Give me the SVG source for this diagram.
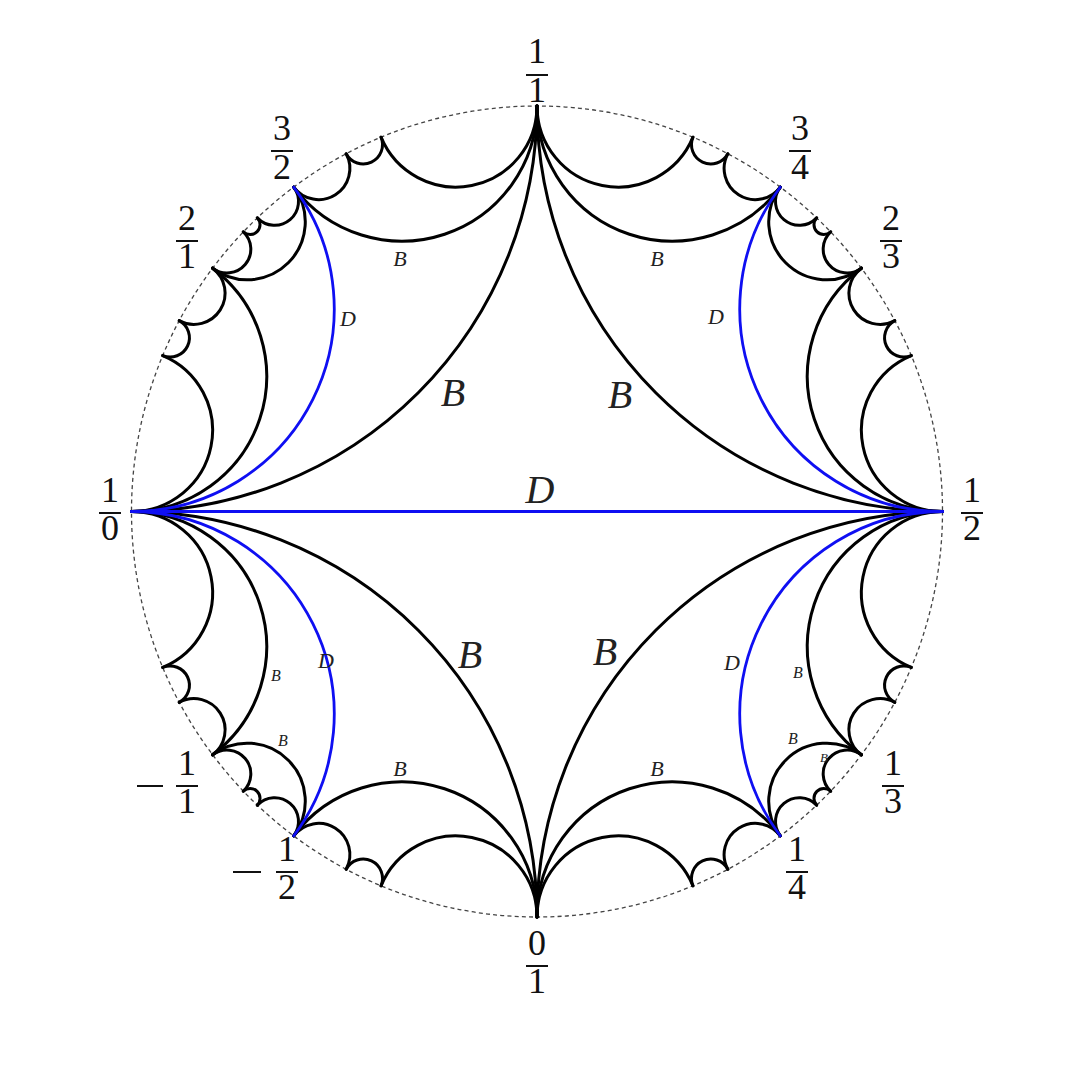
<svg xmlns="http://www.w3.org/2000/svg" width="1080" height="1075" viewBox="0 0 1080 1075">
<style>
.e{fill:none;stroke:#000;stroke-width:3;stroke-linecap:round}
.d{fill:none;stroke:#0f0ff2;stroke-width:2.8;stroke-linecap:round}
.bd{fill:none;stroke:#444;stroke-width:1.3;stroke-dasharray:4 3.2}
.n{font-family:"Liberation Serif","DejaVu Serif",serif;font-size:36px;text-anchor:middle;fill:#111}
.bar{stroke:#111;stroke-width:2}
.l{font-family:"Liberation Serif","DejaVu Serif",serif;font-style:italic;text-anchor:middle;fill:#222}
.lb{font-size:40px}
.ls{font-size:22px}
.lt{font-size:16px}
.lx{font-size:13px}
</style>
<rect width="1080" height="1075" fill="#fff"/>
<circle id="boundary" cx="537" cy="511.5" r="405.5" class="bd"/>
<g id="connectors">
<!-- upper left -->
<path class="e" d="M537,106 A405.5,405.5 0 0 1 131.5,511.5"/>
<path class="e" d="M537,106 A135.17,135.17 0 0 1 293.7,187.1"/>
<path class="e" d="M212.6,268.2 A135.17,135.17 0 0 1 131.5,511.5"/>
<path class="e" d="M293.7,187.1 A57.93,57.93 0 0 1 212.6,268.2"/>
<path class="e" d="M537,106 A81.1,81.1 0 0 1 381.04,137.19"/>
<path class="e" d="M381.04,137.19 A19.31,19.31 0 0 1 346.18,153.71"/>
<path class="e" d="M346.18,153.71 A31.19,31.19 0 0 1 293.7,187.1"/>
<path class="e" d="M293.7,187.1 A23.85,23.85 0 0 1 257.34,217.86"/>
<path class="e" d="M257.34,217.86 A9.89,9.89 0 0 1 243.36,231.84"/>
<path class="e" d="M243.36,231.84 A23.85,23.85 0 0 1 212.6,268.2"/>
<path class="e" d="M212.6,268.2 A31.19,31.19 0 0 1 179.21,320.68"/>
<path class="e" d="M179.21,320.68 A19.31,19.31 0 0 1 162.69,355.54"/>
<path class="e" d="M162.69,355.54 A81.1,81.1 0 0 1 131.5,511.5"/>
<!-- upper right -->
<path class="e" d="M942.5,511.5 A405.5,405.5 0 0 1 537,106"/>
<path class="e" d="M780.3,187.1 A135.17,135.17 0 0 1 537,106"/>
<path class="e" d="M942.5,511.5 A135.17,135.17 0 0 1 861.4,268.2"/>
<path class="e" d="M861.4,268.2 A57.93,57.93 0 0 1 780.3,187.1"/>
<path class="e" d="M692.96,137.19 A81.1,81.1 0 0 1 537,106"/>
<path class="e" d="M727.82,153.71 A19.31,19.31 0 0 1 692.96,137.19"/>
<path class="e" d="M780.3,187.1 A31.19,31.19 0 0 1 727.82,153.71"/>
<path class="e" d="M816.66,217.86 A23.85,23.85 0 0 1 780.3,187.1"/>
<path class="e" d="M830.64,231.84 A9.89,9.89 0 0 1 816.66,217.86"/>
<path class="e" d="M861.4,268.2 A23.85,23.85 0 0 1 830.64,231.84"/>
<path class="e" d="M894.79,320.68 A31.19,31.19 0 0 1 861.4,268.2"/>
<path class="e" d="M911.31,355.54 A19.31,19.31 0 0 1 894.79,320.68"/>
<path class="e" d="M942.5,511.5 A81.1,81.1 0 0 1 911.31,355.54"/>
<!-- lower left -->
<path class="e" d="M131.5,511.5 A405.5,405.5 0 0 1 537,917"/>
<path class="e" d="M293.7,835.9 A135.17,135.17 0 0 1 537,917"/>
<path class="e" d="M131.5,511.5 A135.17,135.17 0 0 1 212.6,754.8"/>
<path class="e" d="M212.6,754.8 A57.93,57.93 0 0 1 293.7,835.9"/>
<path class="e" d="M381.04,885.81 A81.1,81.1 0 0 1 537,917"/>
<path class="e" d="M346.18,869.29 A19.31,19.31 0 0 1 381.04,885.81"/>
<path class="e" d="M293.7,835.9 A31.19,31.19 0 0 1 346.18,869.29"/>
<path class="e" d="M257.34,805.14 A23.85,23.85 0 0 1 293.7,835.9"/>
<path class="e" d="M243.36,791.16 A9.89,9.89 0 0 1 257.34,805.14"/>
<path class="e" d="M212.6,754.8 A23.85,23.85 0 0 1 243.36,791.16"/>
<path class="e" d="M179.21,702.32 A31.19,31.19 0 0 1 212.6,754.8"/>
<path class="e" d="M162.69,667.46 A19.31,19.31 0 0 1 179.21,702.32"/>
<path class="e" d="M131.5,511.5 A81.1,81.1 0 0 1 162.69,667.46"/>
<!-- lower right -->
<path class="e" d="M537,917 A405.5,405.5 0 0 1 942.5,511.5"/>
<path class="e" d="M537,917 A135.17,135.17 0 0 1 780.3,835.9"/>
<path class="e" d="M861.4,754.8 A135.17,135.17 0 0 1 942.5,511.5"/>
<path class="e" d="M780.3,835.9 A57.93,57.93 0 0 1 861.4,754.8"/>
<path class="e" d="M537,917 A81.1,81.1 0 0 1 692.96,885.81"/>
<path class="e" d="M692.96,885.81 A19.31,19.31 0 0 1 727.82,869.29"/>
<path class="e" d="M727.82,869.29 A31.19,31.19 0 0 1 780.3,835.9"/>
<path class="e" d="M780.3,835.9 A23.85,23.85 0 0 1 816.66,805.14"/>
<path class="e" d="M816.66,805.14 A9.89,9.89 0 0 1 830.64,791.16"/>
<path class="e" d="M830.64,791.16 A23.85,23.85 0 0 1 861.4,754.8"/>
<path class="e" d="M861.4,754.8 A31.19,31.19 0 0 1 894.79,702.32"/>
<path class="e" d="M894.79,702.32 A19.31,19.31 0 0 1 911.31,667.46"/>
<path class="e" d="M911.31,667.46 A81.1,81.1 0 0 1 942.5,511.5"/>
<!-- blue D edges -->
<path class="d" d="M293.7,187.1 A202.75,202.75 0 0 1 131.5,511.5"/>
<path class="d" d="M942.5,511.5 A202.75,202.75 0 0 1 780.3,187.1"/>
<path class="d" d="M131.5,511.5 A202.75,202.75 0 0 1 293.7,835.9"/>
<path class="d" d="M780.3,835.9 A202.75,202.75 0 0 1 942.5,511.5"/>
<path class="d" d="M131.5,511.5 L942.5,511.5"/>
</g>
<g id="edge-labels">
<text class="l lb" x="453" y="406">B</text>
<text class="l lb" x="620" y="408">B</text>
<text class="l lb" x="470" y="668">B</text>
<text class="l lb" x="605" y="665">B</text>
<text class="l lb" x="540" y="503">D</text>
<text class="l ls" x="400" y="266">B</text>
<text class="l ls" x="657" y="266">B</text>
<text class="l ls" x="348" y="326">D</text>
<text class="l ls" x="716" y="324">D</text>
<text class="l ls" x="326" y="668">D</text>
<text class="l ls" x="732" y="670">D</text>
<text class="l ls" x="400" y="776">B</text>
<text class="l ls" x="657" y="776">B</text>
<text class="l lt" x="276" y="681">B</text>
<text class="l lt" x="283" y="746">B</text>
<text class="l lt" x="798" y="678">B</text>
<text class="l lt" x="793" y="744">B</text>
<text class="l lx" x="824" y="762">B</text>
</g>
<g id="v-1-1"><text class="n" x="537" y="63">1</text><line class="bar" x1="526" y1="75" x2="548" y2="75"/><text class="n" x="537" y="102">1</text></g>
<g id="v-3-2"><text class="n" x="282" y="140">3</text><line class="bar" x1="271" y1="151" x2="293" y2="151"/><text class="n" x="282" y="179">2</text></g>
<g id="v-3-4"><text class="n" x="800" y="140">3</text><line class="bar" x1="789" y1="151" x2="811" y2="151"/><text class="n" x="800" y="179">4</text></g>
<g id="v-2-1"><text class="n" x="187" y="230">2</text><line class="bar" x1="176" y1="241" x2="198" y2="241"/><text class="n" x="187" y="268">1</text></g>
<g id="v-2-3"><text class="n" x="891" y="230">2</text><line class="bar" x1="880" y1="241" x2="902" y2="241"/><text class="n" x="891" y="268">3</text></g>
<g id="v-1-0"><text class="n" x="110" y="502">1</text><line class="bar" x1="99" y1="513" x2="121" y2="513"/><text class="n" x="110" y="540">0</text></g>
<g id="v-1-2"><text class="n" x="972" y="502">1</text><line class="bar" x1="961" y1="513" x2="983" y2="513"/><text class="n" x="972" y="540">2</text></g>
<g id="v-m1-1"><line class="bar" x1="137" y1="786" x2="163" y2="786"/><text class="n" x="187" y="775">1</text><line class="bar" x1="176" y1="786" x2="198" y2="786"/><text class="n" x="187" y="813">1</text></g>
<g id="v-1-3"><text class="n" x="893" y="775">1</text><line class="bar" x1="882" y1="786" x2="904" y2="786"/><text class="n" x="893" y="813">3</text></g>
<g id="v-m1-2"><line class="bar" x1="233" y1="872" x2="261" y2="872"/><text class="n" x="287" y="861">1</text><line class="bar" x1="276" y1="872" x2="298" y2="872"/><text class="n" x="287" y="899">2</text></g>
<g id="v-1-4"><text class="n" x="797" y="861">1</text><line class="bar" x1="786" y1="872" x2="808" y2="872"/><text class="n" x="797" y="899">4</text></g>
<g id="v-0-1"><text class="n" x="537" y="955">0</text><line class="bar" x1="526" y1="966" x2="548" y2="966"/><text class="n" x="537" y="993">1</text></g>
</svg>
